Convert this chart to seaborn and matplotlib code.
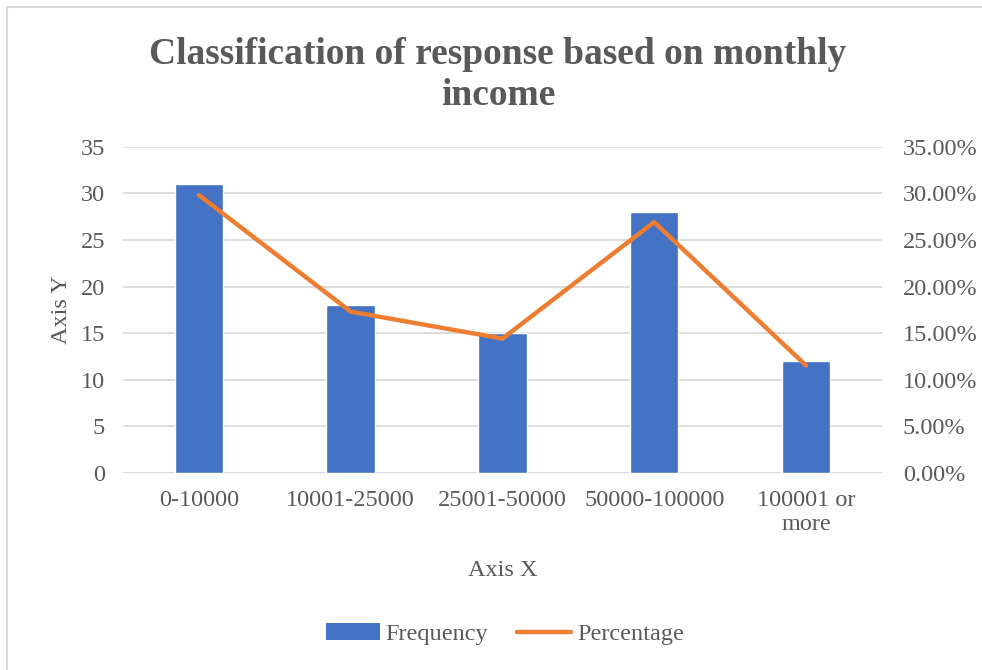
import matplotlib
matplotlib.use("Agg")
import matplotlib.pyplot as plt
import seaborn as sns
import pandas as pd
from matplotlib.lines import Line2D
from matplotlib.patches import Patch
from matplotlib.ticker import FuncFormatter, MultipleLocator

# Data
categories = ["0-10000", "10001-25000", "25001-50000", "50000-100000", "100001 or\nmore"]
frequency = [31, 18, 15, 28, 12]
percentage = [0.2981, 0.1731, 0.1442, 0.2692, 0.1154]

bar_color = "#4472C4"
line_color = "#ED7D31"
text_color = "#595959"
grid_color = "#D9D9D9"

sns.set_theme(style="white")
plt.rcParams["font.family"] = ["Liberation Serif", "DejaVu Serif"]

df = pd.DataFrame({"category": categories, "frequency": frequency, "percentage": percentage})

fig = plt.figure(figsize=(9.82, 6.70), dpi=100)
ax = fig.add_axes([0.1253, 0.294, 0.898 - 0.1253, 0.781 - 0.294])

sns.barplot(data=df, x="category", y="frequency", color=bar_color, width=0.32,
            saturation=1, ax=ax, zorder=3)
ax.set_ylim(0, 35)
ax.yaxis.set_major_locator(MultipleLocator(5))
ax.set_xlim(-0.5, len(categories) - 0.5)
ax.grid(axis="y", color=grid_color, linewidth=1.3, zorder=0)
ax.set_axisbelow(True)
for s in ax.spines.values():
    s.set_visible(False)
ax.axhline(0, color=grid_color, linewidth=1.3, zorder=1)
ax.tick_params(axis="both", length=0, labelsize=17.5, labelcolor=text_color)
ax.tick_params(axis="y", pad=13)
ax.tick_params(axis="x", pad=12)
ax.set_xlabel("Axis X", fontsize=17.5, color=text_color, labelpad=18)
ax.set_ylabel("Axis Y", fontsize=17.5, color=text_color, labelpad=6)

ax2 = ax.twinx()
sns.lineplot(x=list(range(len(categories))), y=percentage, color=line_color,
             linewidth=3.2, ax=ax2, zorder=4, solid_capstyle="round")
ax2.set_ylim(0, 0.35)
ax2.yaxis.set_major_locator(MultipleLocator(0.05))
ax2.yaxis.set_major_formatter(FuncFormatter(lambda v, p: f"{v*100:.2f}%"))
ax2.tick_params(axis="y", length=0, labelsize=17.5, labelcolor=text_color, pad=15)
ax2.grid(False)
for s in ax2.spines.values():
    s.set_visible(False)
ax2.set_xlim(-0.5, len(categories) - 0.5)

fig.text(498 / 982, 1 - 75 / 670, "Classification of response based on monthly\nincome",
         ha="center", va="center", fontsize=27, fontweight="bold",
         color=text_color, linespacing=1.2)

handles = [Patch(facecolor=bar_color, edgecolor="none"),
           Line2D([0], [0], color=line_color, linewidth=3.2, solid_capstyle="round")]
fig.legend(handles, ["Frequency", "Percentage"], loc="center",
           bbox_to_anchor=(505 / 982, 1 - 634 / 670), ncol=2, frameon=False,
           fontsize=17.5, labelcolor=text_color, handlelength=2.2,
           handletextpad=0.25, columnspacing=1.2)

# outer chart frame (left and top edges)
fig.add_artist(Line2D([7 / 982, 7 / 982], [0, 1 - 7 / 670], transform=fig.transFigure,
                      color=grid_color, linewidth=1.5))
fig.add_artist(Line2D([7 / 982, 1], [1 - 7 / 670, 1 - 7 / 670], transform=fig.transFigure,
                      color=grid_color, linewidth=1.5))

fig.savefig("out.png", dpi=100)
